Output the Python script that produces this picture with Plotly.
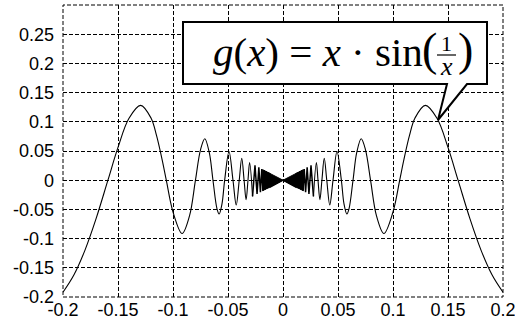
import plotly.graph_objects as go

# ---- data (positive half; the curve is symmetric about x=0) ----
# dense inner oscillation extremes (ascending x)
zig_x = [0.011575, 0.012012, 0.012483, 0.012992, 0.013545, 0.014147, 0.014805, 0.015527,
         0.016324, 0.017206, 0.018189, 0.019292, 0.020536, 0.021952, 0.023578, 0.025465, 0.027679]
zig_y = [-0.01157, 0.01201, -0.01248, 0.01299, -0.01354, 0.01414, -0.01480, 0.01552,
         -0.01632, 0.01720, -0.01818, 0.01929, -0.02053, 0.02194, -0.02357, 0.02546, -0.02767]
# outer lobes (ascending x)
outer_x = [0.03034, 0.03183, 0.03354, 0.03537, 0.03750, 0.03979, 0.04252, 0.04547, 0.04909,
           0.05305, 0.0555, 0.05807, 0.0600, 0.06366, 0.0670, 0.07109, 0.0750, 0.07958, 0.0850,
           0.09171, 0.1000, 0.1061, 0.1100, 0.1150, 0.1200, 0.12944, 0.1400, 0.1500, 0.15915,
           0.1700, 0.1800, 0.1900, 0.2000]
outer_y = [0.03033, 0.0, -0.03352, 0.0, 0.03747, 0.0, -0.04248, 0.0, 0.04903,
           0.0, -0.0410, -0.05797, -0.0491, 0.0, 0.0472, 0.07091, 0.0520, 0.0, -0.0611,
           -0.09132, -0.0544, 0.0, 0.0360, 0.0766, 0.1065, 0.1282, 0.1061, 0.0561, 0.0,
           -0.0663, -0.1197, -0.1619, -0.1918]
center_x = [0.0]
center_y = [0.0]
# solid core of the oscillation near zero (bow-tie envelope)
core_x = [-0.0185, 0.0, 0.0185, 0.0185, 0.0, -0.0185, -0.0185]
core_y = [0.0180, 0.0, 0.0180, -0.0180, 0.0, -0.0180, 0.0180]

x_ticks = [-0.2, -0.15, -0.1, -0.05, 0, 0.05, 0.1, 0.15, 0.2]
x_tick_text = ["-0.2", "-0.15", "-0.1", "-0.05", "0", "0.05", "0.1", "0.15", "0.2"]
y_ticks = [-0.2, -0.15, -0.1, -0.05, 0, 0.05, 0.1, 0.15, 0.2, 0.25, 0.3]
y_tick_text = ["-0.2", "-0.15", "-0.1", "-0.05", "0", "0.05", "0.1", "0.15", "0.2", "0.25", ""]

# dense middle part (both sides) and the two smooth outer parts
inner_x = [-v for v in reversed(zig_x)] + center_x + zig_x
inner_y = list(reversed(zig_y)) + center_y + zig_y
right_x = zig_x[-1:] + outer_x
right_y = zig_y[-1:] + outer_y
left_x = [-v for v in reversed(right_x)]
left_y = list(reversed(right_y))

W, H = 515, 324
L, R, T, B = 63, 12, 5, 27
PW, PH = W - L - R, H - T - B
DASH = "4px,2px"

def px(xp):
    return (xp - L) / PW

def py(yp):
    return (H - B - yp) / PH

fig = go.Figure()
for xs, ys in ((left_x, left_y), (right_x, right_y)):
    fig.add_trace(go.Scatter(x=xs, y=ys, mode="lines",
                             line=dict(color="black", width=1.1, shape="spline"),
                             hoverinfo="skip", showlegend=False, cliponaxis=False))
fig.add_trace(go.Scatter(x=inner_x, y=inner_y, mode="lines",
                         line=dict(color="black", width=1.5),
                         hoverinfo="skip", showlegend=False))
fig.add_trace(go.Scatter(x=core_x, y=core_y, mode="lines", fill="toself",
                         fillcolor="black", line=dict(color="black", width=1),
                         hoverinfo="skip", showlegend=False))

grid = dict(showgrid=True, gridcolor="black", gridwidth=1, griddash=DASH,
            zeroline=False, showline=False, ticks="", automargin=False,
            ticklabeloverflow="allow",
            tickfont=dict(family="Liberation Sans, Arial", size=18, color="black"))

fig.update_layout(
    width=W, height=H,
    margin=dict(l=L, r=R, t=T, b=B, pad=0),
    paper_bgcolor="white", plot_bgcolor="white",
    xaxis=dict(range=[-0.2, 0.2], tickvals=x_ticks, ticktext=x_tick_text, **grid),
    yaxis=dict(range=[-0.2, 0.3], tickvals=y_ticks, ticktext=y_tick_text, **grid),
)
fig.update_yaxes(ticklabelstandoff=8)

# dashed frame (edge grid lines)
fig.add_shape(type="rect", xref="paper", yref="paper", x0=0, x1=1, y0=0, y1=1,
              line=dict(color="black", width=1, dash=DASH), layer="below")

# callout box with tail (single outline)
path = "M {},{} L {},{} L {},{} L {},{} L {},{} L {},{} L {},{} Z".format(
    px(183), py(22), px(487), py(22), px(487), py(84), px(467), py(84),
    px(438), py(120), px(447), py(84), px(183), py(84))
fig.add_shape(type="path", path=path, xref="paper", yref="paper",
              fillcolor="white", line=dict(color="black", width=2), layer="above")
# fraction bar
fig.add_shape(type="line", xref="paper", yref="paper",
              x0=px(437), x1=px(456), y0=py(55), y1=py(55),
              line=dict(color="black", width=1.2), layer="above")

serif = "Liberation Serif, Times New Roman"
fig.add_annotation(xref="paper", yref="paper", x=px(211), y=py(52), xanchor="left", yanchor="middle",
                   text="<i>g</i>(<i>x</i>) = <i>x</i> · sin", showarrow=False,
                   font=dict(family=serif, size=41, color="black"))
fig.add_annotation(xref="paper", yref="paper", x=px(429), y=py(50), xanchor="center", yanchor="middle",
                   text="(", showarrow=False, font=dict(family=serif, size=46, color="black"))
fig.add_annotation(xref="paper", yref="paper", x=px(465), y=py(50), xanchor="center", yanchor="middle",
                   text=")", showarrow=False, font=dict(family=serif, size=46, color="black"))
fig.add_annotation(xref="paper", yref="paper", x=px(446), y=py(43), xanchor="center", yanchor="middle",
                   text="1", showarrow=False, height=20,
                   font=dict(family=serif, size=22, color="black"))
fig.add_annotation(xref="paper", yref="paper", x=px(446), y=py(66), xanchor="center", yanchor="middle",
                   text="<i>x</i>", showarrow=False, height=20,
                   font=dict(family=serif, size=26, color="black"))

fig.write_html("out.html", post_script="document.body.style.margin='0';",
               config={"displayModeBar": False})
